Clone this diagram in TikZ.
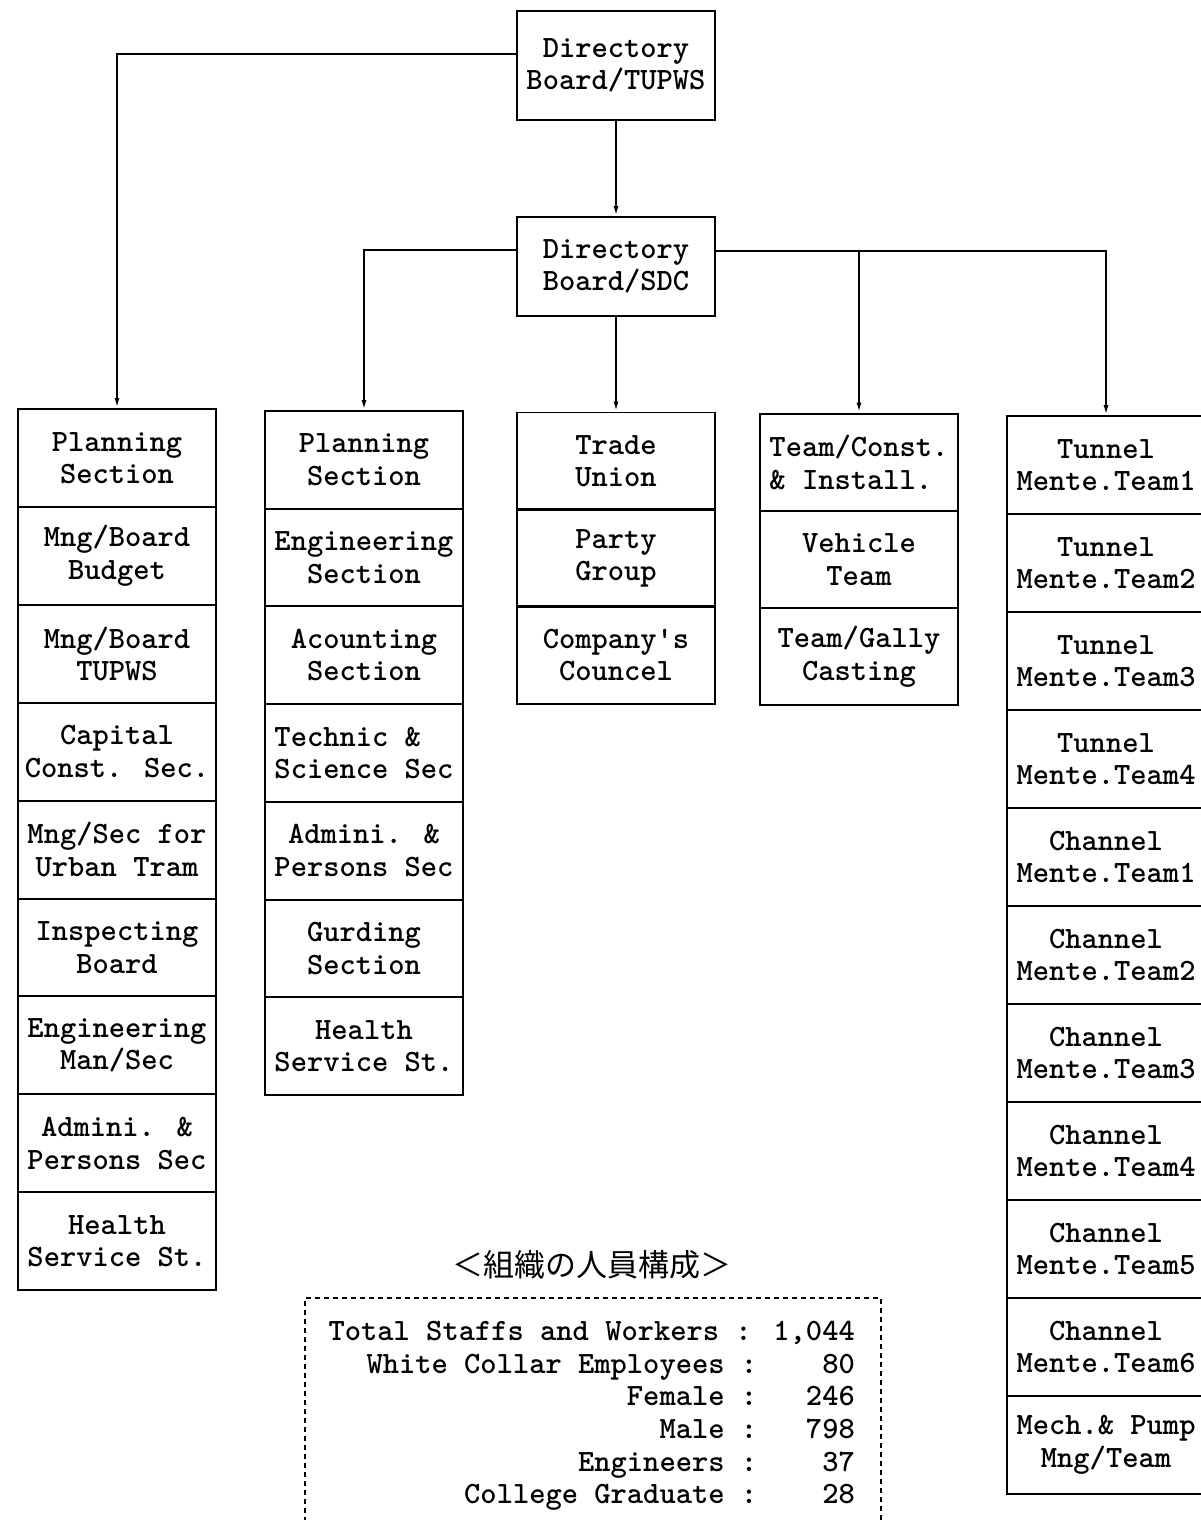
\documentclass[tikz,border=0pt]{standalone}
\usepackage{fontspec}
\newfontfamily\cjkfont{Noto Sans CJK JP}
\usetikzlibrary{arrows.meta,calc}
\newcommand\boxfont{\ttfamily\bfseries\fontsize{31}{32.5}\selectfont}
\tikzset{
  box/.style={draw, line width=1.9pt, minimum width=198pt, minimum height=97.8pt,
              inner sep=0pt, align=center, font=\boxfont},
  topbox/.style={box, minimum height=#1},
  conn/.style={line width=1.9pt, -{Latex[length=10pt,width=5pt]}},
  row/.style={anchor=base east, inner sep=0pt, font=\boxfont},
}
\begin{document}
\begin{tikzpicture}[x=1pt,y=-1pt]
\useasboundingbox (0,0) rectangle (1200,1520);

% top boards
\node[topbox=109pt] (tupws) at (616,65.5) {Directory\\Board/TUPWS};
\node[topbox=99pt]  (sdc)   at (616,266.5) {Directory\\Board/SDC};

% column 1
\foreach \t [count=\i] in {{Planning\\Section},{Mng/Board\\Budget},{Mng/Board\\TUPWS},
  {Capital\\Const. Sec.},{Mng/Sec for\\Urban Tram},{Inspecting\\Board},
  {Engineering\\Man/Sec},{Admini. \&\\Persons Sec},{Health\\Service St.}}
  \node[box] (c1r\i) at (117,{409+(\i-0.5)*97.9}) {\t};

% column 2
\foreach \t [count=\i] in {{Planning\\Section},{Engineering\\Section},{Acounting\\Section},
  {Technic \&\hphantom{xx}\\Science Sec},{Admini. \&\\Persons Sec},{Gurding\\Section},
  {Health\\Service St.}}
  \node[box] (c2r\i) at (364,{411+(\i-0.5)*97.7}) {\t};

% column 3
\foreach \t [count=\i] in {{Trade\\Union},{Party\\Group},{Company's\\Councel}}
  \node[box] (c3r\i) at (616,{413+(\i-0.5)*96.8}) {\t};

% column 4
\foreach \t [count=\i] in {{Team/Const.\\\& Install.\hphantom{x}},{Vehicle\\Team},{Team/Gally\\Casting}}
  \node[box] (c4r\i) at (859,{414+(\i-0.5)*97}) {\t};

% column 5
\foreach \t [count=\i] in {{Tunnel\\Mente.Team1},{Tunnel\\Mente.Team2},{Tunnel\\Mente.Team3},
  {Tunnel\\Mente.Team4},{Channel\\Mente.Team1},{Channel\\Mente.Team2},{Channel\\Mente.Team3},
  {Channel\\Mente.Team4},{Channel\\Mente.Team5},{Channel\\Mente.Team6},{Mech.\& Pump\\Mng/Team}}
  \node[box] (c5r\i) at (1106,{416+(\i-0.5)*98}) {\t};

% connectors
\coordinate (tupL) at ($(tupws.north west)!0.4!(tupws.south west)$);
\coordinate (sdcL) at ($(sdc.north west)!0.34!(sdc.south west)$);
\coordinate (sdcR) at ($(sdc.north east)!0.35!(sdc.south east)$);
\draw[conn] (tupL) -| (c1r1.north);
\draw[conn] (tupws.south) -- (sdc.north);
\draw[conn] (sdcL) -| (c2r1.north);
\draw[conn] (sdc.south) -- (c3r1.north);
\draw[conn] (sdcR) -| (c5r1.north);
\draw[conn] (sdcR -| c4r1.north) -- (c4r1.north);

% staff table
\node[font=\cjkfont\fontsize{31}{31}\selectfont, inner sep=0pt] (title) at (592,1265) {＜組織の人員構成＞};
\node[draw, dash pattern=on 5pt off 4pt, line width=1.8pt, minimum width=576pt,
      minimum height=240pt, anchor=north west, inner sep=0pt] (tbl) at (304,1297) {};
\node[row] (t1) at (855,1340) {Total Staffs and Workers : 1,044};
\node[row] (t2) at (855,1373) {White Collar Employees :~~~~80};
\node[row] (t3) at (855,1405) {Female :~~~246};
\node[row] (t4) at (855,1438) {Male :~~~798};
\node[row] (t5) at (855,1471) {Engineers :~~~~37};
\node[row] (t6) at (855,1503) {College Graduate :~~~~28};
\end{tikzpicture}
\end{document}
